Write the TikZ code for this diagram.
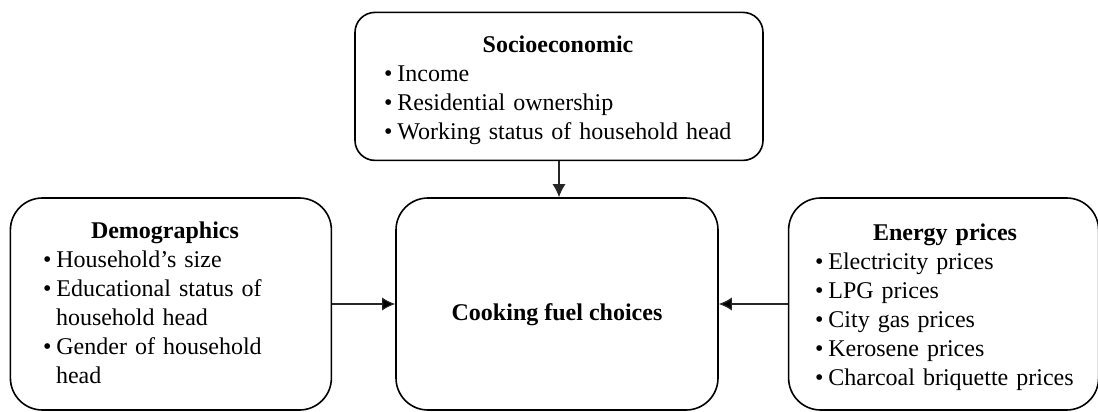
\documentclass[tikz,border=0pt]{standalone}
\usepackage{fontspec}
\setmainfont{Liberation Serif}
\usetikzlibrary{arrows.meta,positioning}
\newenvironment{bullets}{\begin{list}{\textbullet}{%
  \setlength{\leftmargin}{6.5pt}\setlength{\labelwidth}{4pt}%
  \setlength{\labelsep}{2.5pt}\setlength{\itemsep}{0pt}%
  \setlength{\parsep}{0pt}\setlength{\topsep}{0pt}\setlength{\partopsep}{0pt}}}%
  {\end{list}}

\begin{document}
\begin{tikzpicture}[x=0.5pt,y=-0.5pt,>={Latex[length=6.5pt,width=6.5pt]},
    font=\fontsize{12}{14.5}\selectfont]
    \tikzstyle{factor}=[draw,line width=0.8pt,rounded corners=16pt,inner sep=0pt]
    \tikzstyle{factor list}=[inner sep=0pt,align=center]
    \tikzstyle{link}=[->,draw=black!85,line width=0.6pt]

    \useasboundingbox (0,0) rectangle (1098,412);

    % Draw the central box
    \node[factor,minimum width=161pt,minimum height=106pt] (fuel) at (557,304) {};
    \node[font=\fontsize{12}{14.5}\selectfont\bfseries] (fuel-txt) at (557,315) {Cooking fuel choices};

    % Draw the boxes of the factors round it
    \node[factor,minimum width=160.5pt,minimum height=106pt,left=31.5pt of fuel] (demo) {};
    \node[factor,minimum width=155pt,minimum height=106pt,right=34.5pt of fuel] (prices) {};
    \node[factor,rounded corners=10pt,minimum width=204pt,minimum height=74pt,
          above=18pt of fuel,xshift=1pt] (socio) {};

    % Fill in the factors
    \node[factor list,text width=174pt,anchor=north] (socio-txt) at (558,35) {%
        \textbf{Socioeconomic}\par
        \begin{bullets}\raggedright
            \item Income
            \item Residential ownership
            \item Working status of household head
        \end{bullets}};
    \node[factor list,text width=122pt,anchor=north] (demo-txt) at (165,221) {%
        \textbf{Demographics}\par
        \begin{bullets}\raggedright
            \item Household's size
            \item Educational status of\\ household head
            \item Gender of household\\ head
        \end{bullets}};
    \node[factor list,text width=130pt,anchor=north] (prices-txt) at (945,223) {%
        \textbf{Energy prices}\par
        \begin{bullets}\raggedright
            \item Electricity prices
            \item LPG prices
            \item City gas prices
            \item Kerosene prices
            \item Charcoal briquette prices
        \end{bullets}};

    % Connect every factor with the central box
    \foreach \source in {demo,prices}
        \path[link] (\source) edge (fuel);
    \draw[link] (socio) -- (socio |- fuel.north);
\end{tikzpicture}
\end{document}
